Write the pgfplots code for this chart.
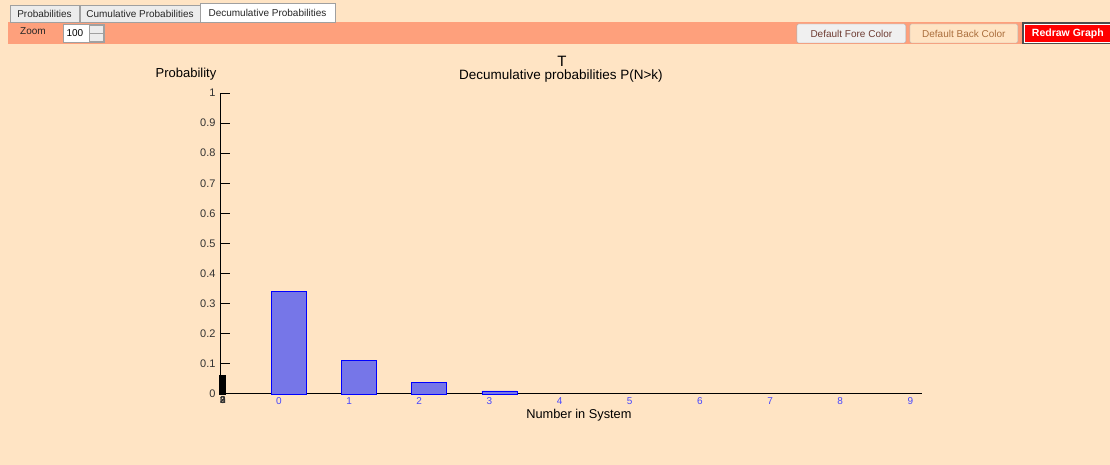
\documentclass[border=0pt]{standalone}
\usepackage{pgfplots}
\pgfplotsset{compat=1.18}
\usepackage{fontspec}
\setmainfont{Liberation Sans}

\definecolor{bisque}{RGB}{255,228,196}
\definecolor{salmonbar}{RGB}{254,160,124}
\definecolor{tabgray}{RGB}{236,236,236}
\definecolor{tabline}{RGB}{160,160,160}
\definecolor{barfill}{RGB}{118,118,232}
\definecolor{ticklab}{RGB}{50,50,50}
\definecolor{xlab}{RGB}{70,70,255}
\definecolor{btntext}{RGB}{110,60,50}
\definecolor{backtext}{RGB}{170,110,60}

\begin{document}
\begin{tikzpicture}[x=1pt,y=1pt]
% window background and toolbar (y measured from the bottom: 465 - pixel row)
\fill[bisque] (0,0) rectangle (1110,465);
\fill[salmonbar] (8,421) rectangle (1110,443);
% tabs
\draw[tabline,fill=tabgray] (10,443) rectangle (79,460);
\draw[tabline,fill=tabgray] (80,443) rectangle (200,460);
\draw[tabline,fill=white] (200,443) rectangle (335,462);
\node[font=\fontsize{10}{12}\selectfont,text=black!85] at (44.5,451.5) {Probabilities};
\node[font=\fontsize{10}{12}\selectfont,text=black!85] at (140,451.5) {Cumulative Probabilities};
\node[font=\fontsize{10}{12}\selectfont,text=black!85] at (267.5,452.5) {Decumulative Probabilities};
% zoom box
\node[font=\fontsize{10}{12}\selectfont,text=black!85] at (33,434) {Zoom};
\draw[tabline,fill=white] (63,423) rectangle (104,441);
\node[font=\fontsize{10}{12}\selectfont,anchor=west] at (63,432) {100};
\draw[tabline,fill=tabgray] (89,424) rectangle (103,432);
\draw[tabline,fill=tabgray] (89,432) rectangle (103,440);
% buttons
\draw[black!35,fill=black!6,rounded corners=1.5pt] (797,422) rectangle (906,441);
\node[font=\fontsize{10}{12}\selectfont,text=btntext] at (851.5,431.5) {Default Fore Color};
\draw[black!30,fill=bisque,rounded corners=1.5pt] (910,422) rectangle (1018,441);
\node[font=\fontsize{10}{12}\selectfont,text=backtext] at (964,431.5) {Default Back Color};
\fill[black!70] (1022,421) rectangle (1110,443);
\draw[white,fill=red] (1024,423) rectangle (1110,441);
\node[font=\fontsize{10.5}{12}\selectfont\bfseries,text=white] at (1068,431.5) {Redraw Graph};
% chart texts
\node[font=\fontsize{15}{17}\selectfont] at (562,404) {T};
\node[font=\fontsize{13.5}{15}\selectfont] at (561,389) {Decumulative probabilities P(N>k)};
\node[font=\fontsize{13}{15}\selectfont] at (186,391) {Probability};
\node[font=\fontsize{12.8}{14}\selectfont] at (579,50) {Number in System};

\begin{axis}[
    at={(220pt,71pt)}, anchor=south west,
    scale only axis, width=702pt, height=301pt,
    xmin=-0.983, xmax=9.02, ymin=0, ymax=1,
    axis x line=bottom, axis y line=left,
    axis line style={black, line width=0.9pt, -},
    ybar, bar shift=0pt, bar width=35pt,
    xtick={0,...,9}, xticklabels={0,1,2,3,4,5,6,7,8,9},
    xtick style={draw=none},
    xticklabel style={text=xlab, font=\fontsize{10}{12}\selectfont, xshift=-10pt, yshift=0pt},
    ytick={0,0.1,...,1.0},
    yticklabels={0,0.1,0.2,0.3,0.4,0.5,0.6,0.7,0.8,0.9,1},
    yticklabel style={text=ticklab, font=\fontsize{11}{12}\selectfont, xshift=-1pt},
    ytick style={black, line width=0.9pt},
    tick align=inside, major tick length=10pt,
    clip=false,
]
\addplot[draw=blue, fill=barfill, line width=0.8pt] coordinates {
    (0,0.340) (1,0.111) (2,0.038) (3,0.010)
};
\addplot[draw=black, fill=black, bar width=6pt] coordinates {(-0.948,0.063)};
\end{axis}
% overlapping glitch labels under the y axis
\node[font=\fontsize{10}{12}\selectfont\bfseries,text=black!80] at (223,65) {\rlap{2}\rlap{0}3};
\end{tikzpicture}
\end{document}
